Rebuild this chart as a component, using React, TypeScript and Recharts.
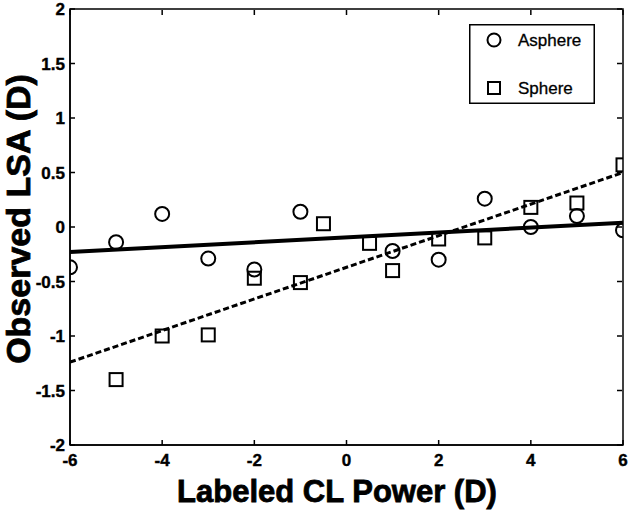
import {
  ScatterChart,
  Scatter,
  XAxis,
  YAxis
} from "recharts";

// labeled contact lens power (D)
const asphereX = [-6, -5, -4, -3, -2, -1, 1, 2, 3, 4, 5, 6];
const asphereY = [-0.37, -0.14, 0.12, -0.29, -0.39, 0.14, -0.22, -0.3, 0.26, 0, 0.1, -0.03];

const sphereX = [-5, -4, -3, -2, -1, -0.5, 0.5, 1, 2, 3, 4, 5, 6];
const sphereY = [-1.4, -1.0, -0.99, -0.47, -0.51, 0.03, -0.15, -0.4, -0.11, -0.1, 0.18, 0.22, 0.57];

// regression lines, read at the ends of the axis
const fitX = [-6, 6];
const asphereFit = [-0.23, 0.04];
const sphereFit = [-1.24, 0.5];

const xTicks = [-6, -4, -2, 0, 2, 4, 6];
const yTicks = [-2, -1.5, -1, -0.5, 0, 0.5, 1, 1.5, 2];

const seriesNames = ["Asphere", "Sphere"];

const toPts = (xs: number[], ys: number[]) => xs.map((x, i) => ({ x, y: ys[i] }));

const asphereData = toPts(asphereX, asphereY);
const sphereData = toPts(sphereX, sphereY);
const asphereLine = toPts(fitX, asphereFit);
const sphereLine = toPts(fitX, sphereFit);

const FONT = "'Liberation Sans', Arial, Helvetica, sans-serif";

const Circle = (p: any) => (
  <circle cx={p.cx} cy={p.cy} r={7} fill="none" stroke="#000" strokeWidth={2} />
);
const Square = (p: any) => (
  <rect x={p.cx - 6.5} y={p.cy - 6.5} width={13} height={13} fill="none" stroke="#000" strokeWidth={2} />
);
const NoDot = () => <g />;

const BottomTick = (p: any) => (
  <g>
    <line x1={p.x} x2={p.x} y1={p.y} y2={p.y - 5} stroke="#000" strokeWidth={1.5} />
    <text x={p.x} y={p.y + 21} textAnchor="middle" fontSize={17} fontWeight="bold" fontFamily={FONT} fill="#000" stroke="#000" strokeWidth={0.4}>
      {p.payload.value}
    </text>
  </g>
);
const TopTick = (p: any) => (
  <line x1={p.x} x2={p.x} y1={p.y + 1} y2={p.y + 6} stroke="#000" strokeWidth={1.5} />
);
const LeftTick = (p: any) => (
  <g>
    <line x1={p.x} x2={p.x + 5} y1={p.y} y2={p.y} stroke="#000" strokeWidth={1.5} />
    <text x={p.x - 5} y={p.y} dy="0.36em" textAnchor="end" fontSize={17} fontWeight="bold" fontFamily={FONT} fill="#000" stroke="#000" strokeWidth={0.4}>
      {p.payload.value}
    </text>
  </g>
);
const RightTick = (p: any) => (
  <line x1={p.x - 1} x2={p.x - 6} y1={p.y} y2={p.y} stroke="#000" strokeWidth={1.5} />
);

const LegendBox = () => (
  <svg
    width={126}
    height={80}
    style={{ position: "absolute", left: 469, top: 24 }}
  >
    <rect x={0.75} y={0.75} width={124.5} height={78.5} fill="#fff" stroke="#000" strokeWidth={1.5} />
    {seriesNames.map((name, i) => {
      const cy = 16 + i * 48;
      return (
        <g key={name}>
          {i === 0 ? (
            <circle cx={25} cy={cy} r={6.5} fill="none" stroke="#000" strokeWidth={2} />
          ) : (
            <rect x={19} y={cy - 6} width={12} height={12} fill="none" stroke="#000" strokeWidth={2} />
          )}
          <text x={49} y={cy} dy="0.36em" fontSize={17} fontFamily={FONT} fill="#000" stroke="#000" strokeWidth={0.3}>
            {name}
          </text>
        </g>
      );
    })}
  </svg>
);

export default function App() {
  return (
    <div style={{ position: "absolute", left: 0, top: 0, width: 633, height: 514, background: "#fff" }}>
      <ScatterChart width={633} height={514} margin={{ top: 8, right: 9, bottom: 0, left: 0 }}>
        <XAxis
          xAxisId="b"
          type="number"
          dataKey="x"
          domain={[-6, 6]}
          ticks={xTicks}
          allowDataOverflow
          height={69}
          tickSize={0}
          tickMargin={0}
          tickLine={false}
          tick={BottomTick}
          axisLine={{ stroke: "#000", strokeWidth: 1.5 }}
        />
        <XAxis
          xAxisId="t"
          orientation="top"
          type="number"
          dataKey="x"
          domain={[-6, 6]}
          ticks={xTicks}
          height={1}
          tickSize={0}
          tickMargin={0}
          tickLine={false}
          tick={TopTick}
          axisLine={false}
        />
        <YAxis
          yAxisId="l"
          type="number"
          dataKey="y"
          domain={[-2, 2]}
          ticks={yTicks}
          allowDataOverflow
          width={70}
          tickSize={0}
          tickMargin={0}
          tickLine={false}
          tick={LeftTick}
          axisLine={{ stroke: "#000", strokeWidth: 1.5 }}
        />
        <YAxis
          yAxisId="r"
          orientation="right"
          type="number"
          dataKey="y"
          domain={[-2, 2]}
          ticks={yTicks}
          width={1}
          tickSize={0}
          tickMargin={0}
          tickLine={false}
          tick={RightTick}
          axisLine={false}
        />
        <Scatter
          xAxisId="t"
          yAxisId="r"
          data={asphereData}
          shape={NoDot}
          legendType="none"
          isAnimationActive={false}
        />
        <Scatter
          xAxisId="b"
          yAxisId="l"
          data={asphereLine}
          line={{ stroke: "#000", strokeWidth: 4 }}
          shape={NoDot}
          legendType="none"
          isAnimationActive={false}
        />
        <Scatter
          xAxisId="b"
          yAxisId="l"
          data={sphereLine}
          line={{ stroke: "#000", strokeWidth: 3, strokeDasharray: "6 3" }}
          shape={NoDot}
          legendType="none"
          isAnimationActive={false}
        />
        <Scatter
          name={seriesNames[0]}
          xAxisId="b"
          yAxisId="l"
          data={asphereData}
          shape={Circle}
          isAnimationActive={false}
        />
        <Scatter
          name={seriesNames[1]}
          xAxisId="b"
          yAxisId="l"
          data={sphereData}
          shape={Square}
          isAnimationActive={false}
        />
        <rect x={70} y={9} width={553} height={436} fill="none" stroke="#000" strokeWidth={1.5} />
        <text
          x={337}
          y={502}
          textAnchor="middle"
          fontSize={31}
          fontWeight="bold"
          fontFamily={FONT}
          fill="#000"
          stroke="#000"
          strokeWidth={0.8}
        >
          Labeled CL Power (D)
        </text>
        <text
          x={30}
          y={219}
          transform="rotate(-90 30 219)"
          textAnchor="middle"
          fontSize={34}
          fontWeight="bold"
          fontFamily={FONT}
          fill="#000"
          stroke="#000"
          strokeWidth={0.8}
        >
          Observed LSA (D)
        </text>
      </ScatterChart>
      <LegendBox />
    </div>
  );
}
